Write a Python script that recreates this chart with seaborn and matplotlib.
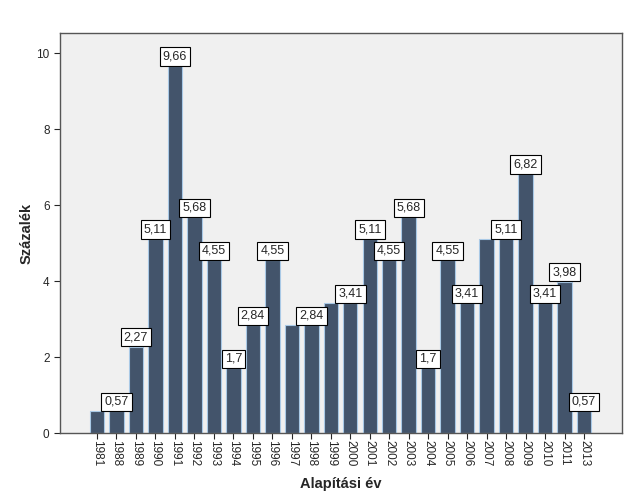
import pandas as pd
import numpy as np
import matplotlib
matplotlib.use('Agg')
import matplotlib.pyplot as plt
import seaborn as sns

# Data
years = ['1981', '1988', '1989', '1990', '1991', '1992', '1993', '1994', '1995',
         '1996', '1997', '1998', '1999', '2000', '2001', '2002', '2003', '2004',
         '2005', '2006', '2007', '2008', '2009', '2010', '2011', '2013']
percent = [0.57, 0.57, 2.27, 5.11, 9.66, 5.68, 4.55, 1.70, 2.84,
           4.55, 2.84, 2.84, 3.41, 3.41, 5.11, 4.55, 5.68, 1.70,
           4.55, 3.41, 5.11, 5.11, 6.82, 3.41, 3.98, 0.57]
bar_labels = ['', '0,57', '2,27', '5,11', '9,66', '5,68', '4,55', '1,7', '2,84',
              '4,55', '', '2,84', '', '3,41', '5,11', '4,55', '5,68', '1,7',
              '4,55', '3,41', '', '5,11', '6,82', '3,41', '3,98', '0,57']

df = pd.DataFrame({'Alapítási év': years, 'Százalék': percent})

sns.set_style('white')
plt.rcParams['font.family'] = ['Liberation Sans', 'DejaVu Sans']

fig = plt.figure(figsize=(6.29, 5.04), dpi=100)
ax = fig.add_axes([60 / 629, (504 - 433) / 504, 562 / 629, 400 / 504])
ax.set_facecolor('#f0f0f0')

sns.barplot(data=df, x='Alapítási év', y='Százalék', color='#43546b',
            width=0.74, edgecolor='#a9c9e6', linewidth=0.8, saturation=1, ax=ax)

# value boxes on top of the bars
for i, (v, lab) in enumerate(zip(percent, bar_labels)):
    if lab:
        ax.annotate(lab, (i, v), xytext=(0, 2.5), textcoords='offset points',
                    ha='center', va='bottom', fontsize=9,
                    bbox=dict(boxstyle='square,pad=0.25', fc='white', ec='black', lw=0.8))

ax.set_xlim(-1.9, 26.95)
ax.set_ylim(0, 10.53)
ax.set_yticks([0, 2, 4, 6, 8, 10])

for s in ax.spines.values():
    s.set_color('#555555')
    s.set_linewidth(1.0)

ax.tick_params(axis='x', rotation=-90, labelsize=8.5, length=4, width=0.8,
               direction='out', bottom=True, pad=1)
ax.tick_params(axis='y', labelsize=8.5, length=4, width=0.8, direction='out', left=True)

ax.set_xlabel('Alapítási év', fontsize=10.5, fontweight='bold', labelpad=8)
ax.set_ylabel('Százalék', fontsize=10.5, fontweight='bold', labelpad=2)

plt.savefig('out.png', dpi=100)
